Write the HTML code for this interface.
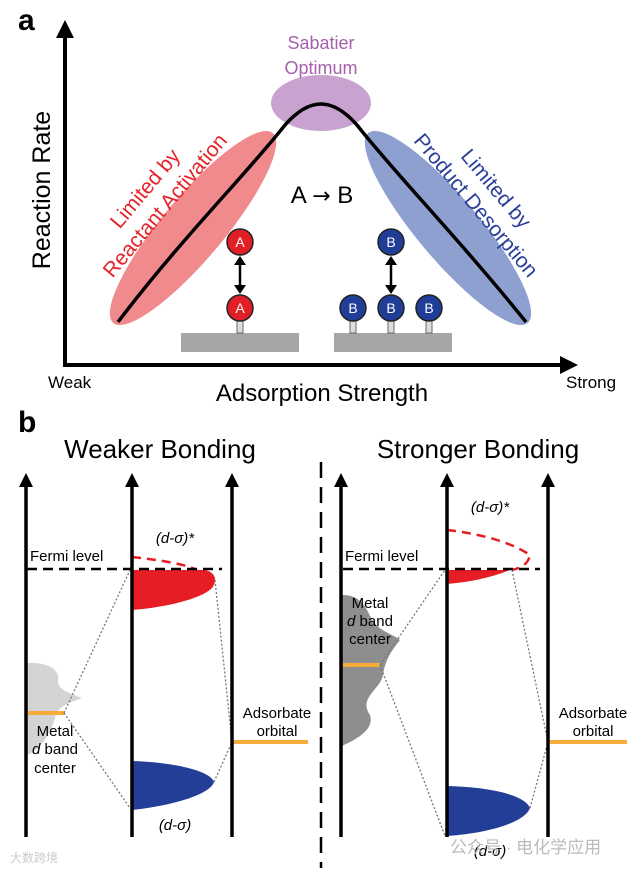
<!DOCTYPE html>
<html><head><meta charset="utf-8"><style>
html,body{margin:0;padding:0;background:#fff}
svg{display:block}
text{font-family:"Liberation Sans","Noto Sans CJK SC",sans-serif}
</style></head><body>
<svg width="638" height="871" viewBox="0 0 638 871" xmlns="http://www.w3.org/2000/svg">
<!-- panel a -->
<text x="18" y="30" font-size="30" font-weight="bold">a</text>
<line x1="65" y1="366" x2="65" y2="36" stroke="#000" stroke-width="4"/>
<path d="M56,38 L65,20 L74,38 z"/>
<line x1="63" y1="365" x2="562" y2="365" stroke="#000" stroke-width="4"/>
<path d="M560,356 L578,365 L560,374 z"/>
<text transform="translate(50,190) rotate(-90)" font-size="25" text-anchor="middle">Reaction Rate</text>
<text x="48" y="388" font-size="17">Weak</text>
<text x="566" y="388" font-size="17">Strong</text>
<text x="322" y="401" font-size="24" text-anchor="middle">Adsorption Strength</text>

<ellipse cx="193" cy="228" rx="124" ry="31" transform="rotate(-50 193 228)" fill="#f08a8d"/>
<ellipse cx="448" cy="228" rx="124" ry="31" transform="rotate(50 448 228)" fill="#8ea0cf"/>
<ellipse cx="321" cy="103" rx="50" ry="28" fill="#c9a3d0"/>
<path d="M118,322 C180,240 250,170 285,125 C300,108 312,104 321,104 C330,104 342,108 357,125 C392,170 460,240 526,322" fill="none" stroke="#000" stroke-width="3.5"/>
<text x="321" y="49" font-size="18" fill="#a660ad" text-anchor="middle">Sabatier</text>
<text x="321" y="74" font-size="18" fill="#a660ad" text-anchor="middle">Optimum</text>
<g transform="translate(155,197) rotate(-50)" fill="#e52329" font-size="21" text-anchor="middle">
<text x="0" y="-6">Limited by</text><text x="0" y="20">Reactant Activation</text></g>
<g transform="translate(486,197) rotate(50)" fill="#2b3f99" font-size="21" text-anchor="middle">
<text x="0" y="-6">Limited by</text><text x="0" y="20">Product Desorption</text></g>
<text x="322" y="203" font-size="24" text-anchor="middle">A <tspan font-family="DejaVu Sans" font-size="22">→</tspan> B</text>

<rect x="181" y="333" width="118" height="19" fill="#a6a6a8"/>
<rect x="334" y="333" width="118" height="19" fill="#a6a6a8"/>
<g fill="#ddd" stroke="#666" stroke-width="1">
<rect x="237" y="318" width="6" height="15"/>
<rect x="350" y="318" width="6" height="15"/>
<rect x="388" y="318" width="6" height="15"/>
<rect x="426" y="318" width="6" height="15"/>
</g>
<g stroke="#222" stroke-width="1.5">
<circle cx="240" cy="242" r="13" fill="#e11f26"/>
<circle cx="240" cy="308" r="13" fill="#e11f26"/>
<circle cx="391" cy="242" r="13" fill="#203d98"/>
<circle cx="353" cy="308" r="13" fill="#203d98"/>
<circle cx="391" cy="308" r="13" fill="#203d98"/>
<circle cx="429" cy="308" r="13" fill="#203d98"/>
</g>
<g fill="#fff" font-size="14" text-anchor="middle">
<text x="240" y="247">A</text><text x="240" y="313">A</text>
<text x="391" y="247">B</text><text x="353" y="313">B</text><text x="391" y="313">B</text><text x="429" y="313">B</text>
</g>
<g stroke="#000" stroke-width="2.5">
<line x1="240" y1="263" x2="240" y2="287"/><line x1="391" y1="263" x2="391" y2="287"/></g>
<path d="M234,265 L240,256 L246,265 z M234,285 L240,294 L246,285 z M385,265 L391,256 L397,265 z M385,285 L391,294 L397,285 z"/>

<!-- panel b -->
<text x="18" y="432" font-size="30" font-weight="bold">b</text>
<text x="160" y="458" font-size="26" text-anchor="middle">Weaker Bonding</text>
<text x="478" y="458" font-size="26" text-anchor="middle">Stronger Bonding</text>
<line x1="321" y1="462" x2="321" y2="868" stroke="#000" stroke-width="2.5" stroke-dasharray="16,9"/>

<!-- left shapes -->
<path d="M27,663 C45,662 60,668 58,680 C57,690 70,693 82,698 C70,703 58,705 55,718 C50,735 40,750 27,755 z" fill="#d4d4d6"/>
<path d="M132,570 L205,570 C215,572 218,580 212,588 C200,600 160,608 132,610 z" fill="#e61d25"/>
<path d="M132,761 C170,762 210,770 214,782 C210,795 170,806 132,810 z" fill="#223e97"/>
<path d="M132,557 C160,560 185,564 197,570" fill="none" stroke="#e61d25" stroke-width="2.5" stroke-dasharray="9,6"/>
<line x1="27" y1="569" x2="222" y2="569" stroke="#000" stroke-width="2.5" stroke-dasharray="10,6"/>
<line x1="28" y1="713" x2="64" y2="713" stroke="#f6ab3b" stroke-width="4"/>
<line x1="233" y1="742" x2="308" y2="742" stroke="#f6ab3b" stroke-width="4"/>
<g stroke="#777" stroke-width="1.3" stroke-dasharray="2,2" fill="none">
<path d="M64,713 L130,570 M64,713 L130,808 M215,580 L232,742 M214,782 L232,742"/>
</g>
<text x="30" y="561" font-size="15">Fermi level</text>
<text x="175" y="543" font-size="15" font-style="italic" text-anchor="middle">(d-σ)*</text>
<text x="175" y="830" font-size="15" font-style="italic" text-anchor="middle">(d-σ)</text>
<g font-size="15" text-anchor="middle"><text x="55" y="736">Metal</text><text x="55" y="754"><tspan font-style="italic">d</tspan> band</text><text x="55" y="773">center</text>
<text x="277" y="718">Adsorbate</text><text x="277" y="736">orbital</text></g>

<!-- right shapes -->
<path d="M342,595 C360,595 365,605 372,620 C380,632 395,635 400,640 C392,650 385,660 383,675 C380,690 358,698 370,715 C375,730 355,740 342,746 z" fill="#8e8e90"/>
<path d="M447,570 L510,570 C490,578 470,582 447,584 z" fill="#e61d25"/>
<path d="M447,786 C490,787 525,795 530,808 C525,822 490,833 447,836 z" fill="#223e97"/>
<path d="M447,530 C490,535 515,545 530,555 C528,565 520,568 512,570" fill="none" stroke="#e61d25" stroke-width="2.5" stroke-dasharray="9,6"/>
<line x1="343" y1="569" x2="540" y2="569" stroke="#000" stroke-width="2.5" stroke-dasharray="10,6"/>
<line x1="343" y1="665" x2="380" y2="665" stroke="#f6ab3b" stroke-width="4"/>
<line x1="550" y1="742" x2="627" y2="742" stroke="#f6ab3b" stroke-width="4"/>
<g stroke="#777" stroke-width="1.3" stroke-dasharray="2,2" fill="none">
<path d="M380,665 L445,570 M380,665 L445,836 M512,570 L548,742 M530,808 L548,742"/>
</g>
<text x="345" y="561" font-size="15">Fermi level</text>
<text x="490" y="512" font-size="15" font-style="italic" text-anchor="middle">(d-σ)*</text>
<text x="490" y="856" font-size="15" font-style="italic" text-anchor="middle">(d-σ)</text>
<g font-size="15" text-anchor="middle"><text x="370" y="608">Metal</text><text x="370" y="626"><tspan font-style="italic">d</tspan> band</text><text x="370" y="644">center</text>
<text x="593" y="718">Adsorbate</text><text x="593" y="736">orbital</text></g>

<!-- axes -->
<g stroke="#000" stroke-width="3.5">
<line x1="26" y1="837" x2="26" y2="485"/><line x1="132" y1="837" x2="132" y2="485"/><line x1="232" y1="837" x2="232" y2="485"/>
<line x1="341" y1="837" x2="341" y2="485"/><line x1="447" y1="837" x2="447" y2="485"/><line x1="548" y1="837" x2="548" y2="485"/>
</g>
<path d="M19,487 L26,473 L33,487 z M125,487 L132,473 L139,487 z M225,487 L232,473 L239,487 z M334,487 L341,473 L348,487 z M440,487 L447,473 L454,487 z M541,487 L548,473 L555,487 z"/>
<text x="450" y="853" font-size="17" fill="#bbb">公众号 · 电化学应用</text>
<text x="10" y="862" font-size="12" fill="#ccc">大数跨境</text>
</svg>
</body></html>
